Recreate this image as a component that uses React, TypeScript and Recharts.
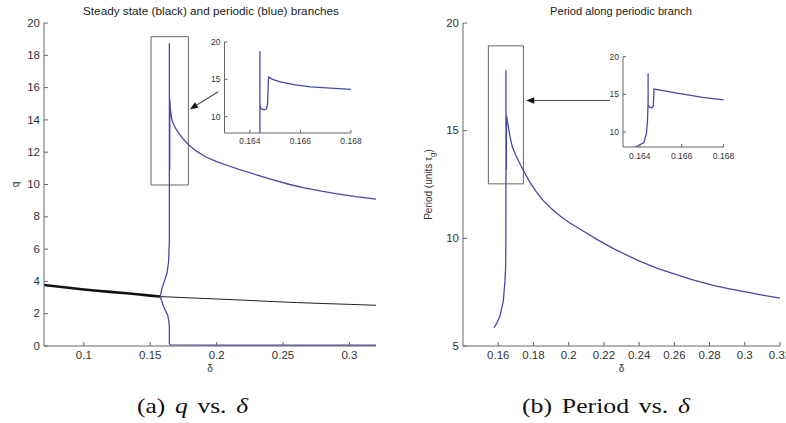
import React from 'react';
import { LineChart, Line, XAxis, YAxis, ReferenceArea, ReferenceLine } from 'recharts';

const SANS = '"Liberation Sans", Arial, Helvetica, sans-serif';
const SERIF = '"Liberation Serif", "Times New Roman", serif';
const BOX = '#666';
const BLUE = '#4848a6';
const TXT = '#333';

// steady state branch, stable part (thick black)
const stableDelta = [0.07, 0.08, 0.09, 0.1, 0.11, 0.12, 0.13, 0.14, 0.15, 0.1575];
const stableQ = [3.78, 3.68, 3.59, 3.5, 3.42, 3.35, 3.28, 3.2, 3.12, 3.06];

// steady state branch, unstable part (thin black)
const unstableDelta = [0.1575, 0.18, 0.2, 0.22, 0.24, 0.26, 0.28, 0.3, 0.32];
const unstableQ = [3.06, 2.98, 2.91, 2.84, 2.76, 2.69, 2.63, 2.58, 2.52];

// periodic branch, max of q
const maxDelta = [0.1575, 0.1588, 0.1608, 0.1626, 0.1638, 0.1644, 0.1644, 0.1644, 0.16444, 0.1645, 0.16458, 0.16466, 0.1647, 0.16474,
  0.1649, 0.1652, 0.1658, 0.1664, 0.168, 0.17, 0.1716, 0.175, 0.179, 0.185, 0.1917, 0.2, 0.21, 0.2168, 0.23, 0.2419, 0.255, 0.267, 0.28, 0.2921, 0.305, 0.32];
const maxQ = [3.06, 3.57, 4.05, 4.5, 5.2, 6.5, 18.75, 11.5, 11.1, 10.95, 10.9, 11.05, 11.6, 15.3,
  15.0, 14.65, 14.25, 13.98, 13.64, 13.36, 13.17, 12.8, 12.45, 12.05, 11.72, 11.42, 11.13, 10.93, 10.6, 10.3, 10.0, 9.77, 9.57, 9.41, 9.25, 9.1];

// periodic branch, min of q
const minDelta = [0.1575, 0.1601, 0.1631, 0.1641, 0.1644, 0.1644, 0.1648, 0.2, 0.25, 0.32];
const minQ = [3.06, 2.43, 1.92, 1.5, 1.1, 0.16, 0.07, 0.06, 0.06, 0.06];

// period along the periodic branch
const periodDelta = [0.1576, 0.1595, 0.161, 0.1629, 0.1638, 0.1642, 0.16432, 0.16437, 0.1644, 0.1644, 0.1644, 0.16448, 0.16458, 0.16465, 0.16468,
  0.1652, 0.1655, 0.166, 0.167, 0.168, 0.17, 0.1743, 0.178, 0.1818, 0.1856, 0.19, 0.195, 0.2, 0.208, 0.216, 0.226, 0.2386, 0.25, 0.2594, 0.27, 0.2821, 0.29, 0.3011, 0.31, 0.32];
const periodT = [5.85, 6.1, 6.4, 7.1, 8.0, 8.6, 9.8, 11.5, 14, 17.8, 13.6, 13.25, 13.2, 13.4, 15.7,
  15.45, 15.3, 15.05, 14.6, 14.25, 13.85, 13.15, 12.6, 12.15, 11.75, 11.4, 11.05, 10.75, 10.35, 9.95, 9.5, 9.0, 8.62, 8.36, 8.08, 7.82, 7.68, 7.5, 7.36, 7.22];

const qXTicks = [0.1, 0.15, 0.2, 0.25, 0.3];
const qYTicks = [0, 2, 4, 6, 8, 10, 12, 14, 16, 18, 20];
const tXTicks = [0.16, 0.18, 0.2, 0.22, 0.24, 0.26, 0.28, 0.3, 0.32];
const tYTicks = [5, 10, 15, 20];
const insetXTicks = [0.164, 0.166, 0.168];
const insetYTicks = [10, 15, 20];

const zip = (xs: number[], ys: number[]) => xs.map((d, i) => ({ d, v: ys[i] }));
const stable = zip(stableDelta, stableQ);
const unstable = zip(unstableDelta, unstableQ);
const qMax = zip(maxDelta, maxQ);
const qMin = zip(minDelta, minQ);
const period = zip(periodDelta, periodT);

// tick text, slightly widened like the scanned figure
const makeTick = (size: number, stretch: number) => (p: any) => {
  const dy = p.verticalAnchor === 'start' ? size * 0.72 : size * 0.36;
  return (
    <text transform={`translate(${p.x} ${p.y}) scale(${stretch} 1)`} x={0} y={0} dy={dy} textAnchor={p.textAnchor}
      fontFamily={SANS} fontSize={size} fill={TXT}>
      {p.payload.value}
    </text>
  );
};
const tickMain = makeTick(10, 1.15);
const tickInset = makeTick(8.5, 1);

const arrowShape = (p: any) => {
  const { x1, y1, x2, y2 } = p;
  const a = Math.atan2(y2 - y1, x2 - x1);
  const L = 8;
  const W = 3.2;
  const bx = x2 - L * Math.cos(a);
  const by = y2 - L * Math.sin(a);
  const pts = `${x2},${y2} ${bx - W * Math.sin(a)},${by + W * Math.cos(a)} ${bx + W * Math.sin(a)},${by - W * Math.cos(a)}`;
  return (
    <g>
      <line x1={x1} y1={y1} x2={bx} y2={by} stroke="#555" strokeWidth={1.2} />
      <polygon points={pts} fill="#111" />
    </g>
  );
};

const yLabel = (content: React.ReactNode, dx: number) => ({
  content: (p: any) => {
    const vb = p.viewBox;
    const cx = vb.x + dx;
    const cy = vb.y + vb.height / 2;
    return (
      <text x={cx} y={cy} transform={`rotate(-90 ${cx} ${cy})`} textAnchor="middle" dominantBaseline="central"
        fontFamily={SANS} fontSize={10} fill={TXT}>
        {content}
      </text>
    );
  },
});

const xLabel = {
  content: (p: any) => {
    const vb = p.viewBox;
    return (
      <text x={vb.x + vb.width / 2} y={vb.y + 26} textAnchor="middle" fontFamily={SANS} fontSize={10} fill={TXT}>δ</text>
    );
  },
};

// top and right axes so the plot gets a closed box with inward ticks
const boxAxes = (xDomain: number[], xTicks: number[], yDomain: number[], yTicks: number[], size: number) => [
  <XAxis key="top" xAxisId="top" orientation="top" type="number" dataKey="d" domain={xDomain} ticks={xTicks} interval={0}
    height={0} tick={false} tickSize={-size} stroke={BOX} allowDataOverflow />,
  <YAxis key="right" yAxisId="right" orientation="right" type="number" domain={yDomain} ticks={yTicks} interval={0}
    width={0} tick={false} tickSize={-size} stroke={BOX} allowDataOverflow />,
];

const abs = (left: number, top: number): React.CSSProperties => ({ position: 'absolute', left, top });

export default function App() {
  return (
    <div style={{ position: 'absolute', left: 0, top: 0, width: 786, height: 423, overflow: 'hidden', background: '#fff' }}>
      {/* (a) q vs delta */}
      <div style={abs(0, 0)}>
        <LineChart width={390} height={380} margin={{ top: 23, right: 14, bottom: 4, left: 0 }}>
          <XAxis type="number" dataKey="d" domain={[0.07, 0.32]} ticks={qXTicks} interval={0} height={30} tickSize={-4} tickMargin={10}
            stroke={BOX} tick={tickMain} allowDataOverflow label={xLabel} />
          <YAxis type="number" domain={[0, 20]} ticks={qYTicks} interval={0} width={44} tickSize={-4} tickMargin={8}
            stroke={BOX} tick={tickMain} allowDataOverflow label={yLabel('q', 15)} />
          {boxAxes([0.07, 0.32], qXTicks, [0, 20], qYTicks, 4)}
          <ReferenceArea x1={0.1506} x2={0.1787} y1={9.97} y2={19.15} fill="none" stroke={BOX} strokeWidth={1} />
          <ReferenceLine segment={[{ x: 0.2012, y: 15.75 }, { x: 0.1799, y: 14.66 }]} shape={arrowShape} />
          <Line data={unstable} dataKey="v" stroke="#222" strokeWidth={1} dot={false} isAnimationActive={false} />
          <Line data={stable} dataKey="v" stroke="#111" strokeWidth={2.6} dot={false} isAnimationActive={false} />
          <Line data={qMin} dataKey="v" stroke={BLUE} strokeWidth={1.3} dot={false} isAnimationActive={false} />
          <Line data={qMax} dataKey="v" stroke={BLUE} strokeWidth={1.3} dot={false} isAnimationActive={false} />
        </LineChart>
      </div>

      {/* inset of (a) */}
      <div style={abs(200, 34)}>
        <LineChart width={176} height={120} margin={{ top: 8, right: 25, bottom: 0, left: 0 }}>
          <XAxis type="number" dataKey="d" domain={[0.163, 0.168]} ticks={insetXTicks} interval={0} height={21} tickSize={-3} tickMargin={8}
            stroke={BOX} tick={tickInset} allowDataOverflow />
          <YAxis type="number" domain={[7.8, 20]} ticks={insetYTicks} interval={0} width={24.5} tickSize={-3} tickMargin={7}
            stroke={BOX} tick={tickInset} allowDataOverflow />
          {boxAxes([0.163, 0.168], insetXTicks, [7.8, 20], insetYTicks, 3)}
          <Line data={qMax} dataKey="v" stroke={BLUE} strokeWidth={1.3} dot={false} isAnimationActive={false} />
        </LineChart>
      </div>

      {/* (b) period vs delta */}
      <div style={abs(393, 0)}>
        <LineChart width={393} height={380} margin={{ top: 23, right: 6, bottom: 4, left: 0 }}>
          <XAxis type="number" dataKey="d" domain={[0.14, 0.32]} ticks={tXTicks} interval={0} height={30} tickSize={-4} tickMargin={10}
            stroke={BOX} tick={tickMain} allowDataOverflow label={xLabel} />
          <YAxis type="number" domain={[5, 20]} ticks={tYTicks} interval={0} width={70} tickSize={-4} tickMargin={8}
            stroke={BOX} tick={tickMain} allowDataOverflow
            label={yLabel(<>Period (units τ<tspan baselineShift="sub" fontSize={8}>g</tspan>)</>, 35)} />
          {boxAxes([0.14, 0.32], tXTicks, [5, 20], tYTicks, 4)}
          <ReferenceArea x1={0.1544} x2={0.1743} y1={12.53} y2={18.94} fill="none" stroke={BOX} strokeWidth={1} />
          <ReferenceLine segment={[{ x: 0.2235, y: 16.4 }, { x: 0.1759, y: 16.4 }]} shape={arrowShape} />
          <Line data={period} dataKey="v" stroke={BLUE} strokeWidth={1.3} dot={false} isAnimationActive={false} />
        </LineChart>
      </div>

      {/* inset of (b) */}
      <div style={abs(600, 48)}>
        <LineChart width={150} height={120} margin={{ top: 8.7, right: 26.5, bottom: 0, left: 0 }}>
          <XAxis type="number" dataKey="d" domain={[0.1632, 0.168]} ticks={insetXTicks} interval={0} height={21} tickSize={-3} tickMargin={9}
            stroke={BOX} tick={tickInset} allowDataOverflow />
          <YAxis type="number" domain={[8, 20]} ticks={insetYTicks} interval={0} width={23} tickSize={-3} tickMargin={7}
            stroke={BOX} tick={tickInset} allowDataOverflow />
          {boxAxes([0.1632, 0.168], insetXTicks, [8, 20], insetYTicks, 3)}
          <Line data={period} dataKey="v" stroke={BLUE} strokeWidth={1.3} dot={false} isAnimationActive={false} />
        </LineChart>
      </div>

      {/* titles and captions */}
      <svg width={786} height={423} style={{ position: 'absolute', left: 0, top: 0, pointerEvents: 'none' }}>
        <text x={211} y={15} textAnchor="middle" fontFamily={SANS} fontSize={10.5} fill="#222"
          textLength={256} lengthAdjust="spacingAndGlyphs">
          Steady state (black) and periodic (blue) branches
        </text>
        <text x={621} y={15} textAnchor="middle" fontFamily={SANS} fontSize={10.5} fill="#222"
          textLength={142} lengthAdjust="spacingAndGlyphs">
          Period along periodic branch
        </text>
        <text x={192.5} y={413} textAnchor="middle" fontFamily={SERIF} fontSize={21} fill="#111"
          textLength={111} lengthAdjust="spacingAndGlyphs">
          (a)<tspan dx={8} fontStyle="italic">q</tspan><tspan dx={8}>vs.</tspan><tspan dx={8} fontStyle="italic">δ</tspan>
        </text>
        <text x={606} y={413} textAnchor="middle" fontFamily={SERIF} fontSize={21} fill="#111"
          textLength={168} lengthAdjust="spacingAndGlyphs">
          (b)<tspan dx={8}>Period</tspan><tspan dx={8}>vs.</tspan><tspan dx={8} fontStyle="italic">δ</tspan>
        </text>
      </svg>
    </div>
  );
}
